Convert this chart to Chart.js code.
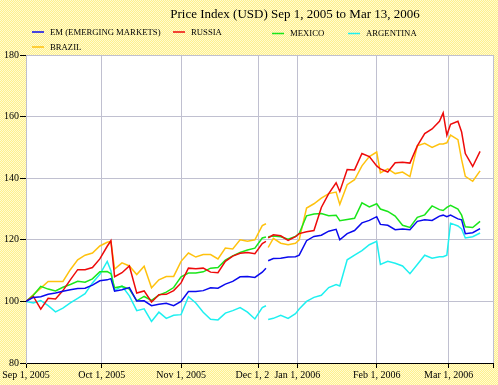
<!DOCTYPE html>
<html>
<head>
<meta charset="utf-8">
<script src="https://cdn.jsdelivr.net/npm/chart.js@4.4.1/dist/chart.umd.min.js"></script>
<style>
  html, body { margin: 0; padding: 0; }
  body {
    width: 498px; height: 385px; overflow: hidden;
    background: repeating-conic-gradient(#fff08c 0 25%, #fffbd2 0 50%) 0 0 / 2px 2px;
  }
  canvas { display: block; }
</style>
</head>
<body>
<canvas id="myChart" width="498" height="385"></canvas>
<script>
// trading day index since Sep 1, 2005 (65.3 = break in the series)
const days = [0, 2, 4, 6, 8, 10, 12, 14, 16, 18, 20, 22, 23, 24, 26, 28, 30, 32, 34, 36, 38, 40,
  42, 44, 46, 48, 50, 52, 54, 56, 58, 60, 62, 64, 65, 65.3, 65.6, 67, 69, 71, 73, 74, 76, 78, 80,
  82, 84, 85, 87, 89, 91, 93, 95, 96, 98, 100, 102, 104, 106, 108, 110, 112, 113, 114, 115, 117,
  118, 119, 121, 123]

const em = [100, 101.3, 101.5, 102.3, 102.7, 103.3, 103.8, 104.2, 104.3, 105.3, 106.7, 107, 107.4,
  103.3, 103.8, 104.5, 100.1, 100.2, 98.6, 99.1, 99.4, 98.6, 100, 103.2, 103.2, 103.5, 104.4, 104.3,
  105.6, 106.5, 108, 108.1, 107.8, 109.5, 110.8, null, 113.2, 113.9, 114, 114.4, 114.5, 115, 119.7,
  121.1, 121.5, 122.8, 123.4, 120, 122, 123, 125.5, 126.3, 127.5, 125, 124.7, 123.3, 123.5, 123.3,
  126, 126.5, 126.3, 127.7, 128, 127.5, 128, 126.8, 126.5, 122, 122.3, 123.6]

const russia = [100, 101.6, 97.5, 101, 100.8, 103.5, 107, 110.3, 110.3, 111, 113.8, 117.9, 119.7,
  108, 109.3, 111.5, 102.7, 103.4, 99.8, 102.2, 102.3, 103.5, 106, 110.8, 110.6, 110.8, 109.5, 109.3,
  113, 114.7, 115.6, 115.9, 115.5, 118.8, 119.5, null, 120.6, 121.6, 121.3, 119.8, 121, 122, 122.6,
  123, 130.5, 135, 138.5, 135.7, 142.8, 142.7, 148, 147, 144, 143, 142, 145, 145.2, 144.9, 150.5,
  154.5, 156, 158.5, 161.2, 154, 157.5, 158.5, 155, 148, 143.8, 148.7]

const mexico = [100, 102, 104.9, 104, 103.4, 104.6, 105.5, 106.5, 106.2, 107.3, 109.6, 109.7, 109,
  104.4, 104.9, 104, 100.2, 101.6, 100.3, 102, 103, 104.5, 108, 109.2, 109.2, 109.6, 110.8, 111,
  113.4, 114.8, 115.9, 116.7, 117.3, 120.6, 120.9, null, 121, 121.2, 121, 120.2, 121.1, 122, 127.8,
  128.4, 128.5, 127.8, 128, 126.2, 126.6, 127, 132, 130.7, 131.7, 130, 129.2, 127.7, 124.7, 124,
  127.3, 128.1, 131, 129.8, 129.5, 130.5, 131.2, 130, 128, 124.2, 124, 126]

const argentina = [100, 99.5, 100.3, 98.6, 96.6, 97.8, 99.5, 101, 102.5, 106, 108.8, 113, 110,
  103.5, 105, 101.8, 97, 97.6, 93.5, 96.5, 94.5, 95.5, 95.7, 101.5, 99.5, 96.5, 94.2, 94, 96.2, 97,
  98, 96.5, 94.3, 98, 98.6, null, 94.1, 94.5, 95.5, 94.5, 96, 97.5, 100, 101.3, 102, 104.5, 105.5,
  105, 113.5, 115, 116.5, 118.4, 119.5, 112, 113, 112.4, 111.5, 109, 112, 115, 114, 114.5, 114.5,
  115, 125.4, 124.5, 123.5, 120.6, 121, 122.2]

const brazil = [100, 102.2, 104.3, 106.5, 106.5, 106.5, 110.3, 113.5, 115, 115.7, 118, 119.2, 119.5,
  110.5, 112.5, 111.5, 108.7, 111.4, 104.4, 107, 108.1, 108.1, 113, 115.7, 114.4, 115.2, 115.2, 113.8,
  117.3, 117, 120, 119.5, 120, 124.6, 125.2, null, 117.5, 120.5, 118.9, 118.4, 118.9, 120, 130.3,
  131.7, 133.5, 135, 135.5, 131.5, 137.9, 139.5, 144, 147, 148.5, 141.7, 143, 141.5, 142, 140.5,
  150.5, 151.3, 150, 151.1, 151.1, 151.5, 154, 152.5, 146, 140.6, 139, 142.4]

const seriesNames = ['EM (EMERGING MARKETS)', 'RUSSIA', 'MEXICO', 'ARGENTINA', 'BRAZIL']
const seriesColors = ['#0a0aee', '#ee0a0a', '#1ae61a', '#1ef0f0', '#ffc20e']

const tickDays = [0, 20.5, 42, 63, 73.5, 95, 114.5, 126.5]
const tickLabels = ['Sep 1, 2005', 'Oct 1, 2005', 'Nov 1, 2005', 'Dec 1, 2\u00a0\u00a0\u00a0\u00a0\u00a0',
  'Jan 1, 2006', 'Feb 1, 2006', 'Mar 1, 2006', '']

const titleText = 'Price Index (USD) Sep 1, 2005 to Mar 13, 2006'
// legend line start [x, y] for each series
const legendSpots = [[32, 32], [173, 32], [272, 33.5], [348, 33.5], [32, 47]]

const gridColor = '#c0c0d0'
const serif = '"Liberation Serif", "Times New Roman", serif'

Chart.defaults.font.family = serif
Chart.defaults.font.size = 10
Chart.defaults.color = '#000'

const allSeries = [em, russia, mexico, argentina, brazil]

const frame = {
  id: 'frame',
  beforeDraw(chart) {
    const a = chart.chartArea
    const ctx = chart.ctx
    ctx.save()
    ctx.fillStyle = '#fff'
    ctx.fillRect(a.left, a.top, a.right - a.left, a.bottom - a.top)
    ctx.restore()
  },
  afterDraw(chart) {
    const ctx = chart.ctx
    ctx.save()
    ctx.fillStyle = '#000'
    ctx.textBaseline = 'alphabetic'
    ctx.textAlign = 'center'
    ctx.font = '13px ' + serif
    ctx.fillText(titleText, 295, 18)

    ctx.textAlign = 'left'
    ctx.textBaseline = 'middle'
    ctx.font = '8.7px ' + serif
    ctx.lineWidth = 1.5
    seriesNames.forEach((name, i) => {
      const [x, y] = legendSpots[i]
      ctx.strokeStyle = seriesColors[i]
      ctx.beginPath()
      ctx.moveTo(x, y)
      ctx.lineTo(x + 12, y)
      ctx.stroke()
      ctx.fillText(name, x + 18, y + 0.5)
    })
    ctx.restore()
  }
}

const data = {
  datasets: allSeries.map((vals, i) => ({
    label: seriesNames[i],
    data: days.map((d, j) => ({ x: d, y: vals[j] })),
    borderColor: seriesColors[i],
    backgroundColor: seriesColors[i],
    borderWidth: 1.5,
    pointRadius: 0,
    fill: false,
    tension: 0,
    spanGaps: false
  }))
}

const config = {
  type: 'line',
  data,
  options: {
    responsive: false,
    animation: false,
    devicePixelRatio: 1,
    layout: { padding: { top: 55, right: 5, left: 0, bottom: 0 } },
    plugins: {
      legend: { display: false },
      title: { display: false },
      tooltip: { enabled: false }
    },
    scales: {
      x: {
        type: 'linear',
        min: 0,
        max: 126.5,
        afterBuildTicks: s => { s.ticks = tickDays.map(v => ({ value: v })) },
        afterFit: s => { s.height = 22 },
        ticks: {
          autoSkip: false,
          maxRotation: 0,
          padding: 1,
          callback: (v, i) => tickLabels[i]
        },
        grid: { color: gridColor, tickColor: '#000', tickLength: 5 },
        border: { color: '#000' }
      },
      y: {
        min: 80,
        max: 180,
        afterFit: s => { s.width = 26 },
        ticks: { stepSize: 20, padding: 1 },
        grid: { color: gridColor, tickColor: '#000', tickLength: 6 },
        border: { color: gridColor }
      }
    }
  },
  plugins: [frame]
}

const myChart = new Chart(document.getElementById('myChart'), config)
</script>
</body>
</html>
